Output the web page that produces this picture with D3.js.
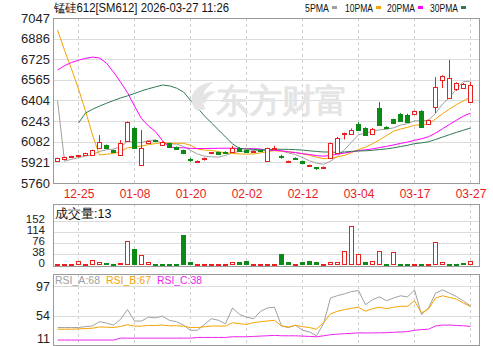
<!DOCTYPE html>
<html>
<head>
<meta charset="utf-8">
<script src="https://cdn.jsdelivr.net/npm/d3@7"></script>
<style>
  body { margin: 0; background: #fff; }
  text { font-family: "Liberation Sans", Arial, sans-serif; }
</style>
</head>
<body>
<script>
// ---- data ----
var dates = ["12-22","12-23","12-24","12-25","12-26","12-29","12-30","12-31","01-05","01-06",
  "01-07","01-08","01-09","01-12","01-13","01-14","01-15","01-16","01-19","01-20",
  "01-21","01-22","01-23","01-26","01-27","01-28","01-29","02-02","02-03","02-04",
  "02-05","02-06","02-09","02-10","02-11","02-12","02-13","02-24","02-25","02-26",
  "02-27","03-02","03-03","03-04","03-05","03-06","03-09","03-10","03-11","03-12",
  "03-13","03-17","03-18","03-19","03-20","03-23","03-24","03-25","03-26","03-27"];
var dateTicks = ["12-25","01-08","01-20","02-02","02-12","03-04","03-17","03-27"];

var openP = [5932,5950,5960,5965,5978,5978,6033,6056,6017,5978,
  6088,6189,5900,6072,6092,6056,6072,6041,6017,5945,
  5932,5955,5990,6002,6005,6002,6035,6017,6008,6015,
  5932,6030,5968,5930,5958,5932,5898,5882,5884,5955,
  5994,6148,6142,6220,6189,6142,6345,6200,6259,6298,
  6290,6298,6322,6220,6353,6563,6423,6493,6501,6392];
var closeP = [5955,5962,5968,5975,5992,6015,6080,6035,6002,6072,
  6236,6033,6033,6088,6085,6080,6041,6025,5994,5935,
  5934,5957,6000,5986,5998,6033,6012,6005,6012,6010,
  6033,6033,5960,5934,5952,5916,5902,5872,5888,6072,
  6111,6152,6173,6173,6134,6181,6212,6197,6228,6244,
  6236,6322,6197,6251,6509,6595,6580,6540,6532,6524];
var highP = [5958,5965,5972,5980,5996,6020,6134,6060,6020,6095,
  6240,6195,6173,6092,6098,6085,6075,6045,6020,5955,
  5936,5958,6002,6005,6008,6048,6040,6020,6015,6018,
  6035,6050,5980,5935,5960,5935,5903,5885,5890,6075,
  6120,6153,6185,6235,6195,6190,6392,6203,6262,6305,
  6300,6325,6328,6255,6587,6600,6719,6545,6540,6548];
var lowP = [5928,5946,5955,5960,5972,5975,6030,6030,5998,5975,
  6085,6028,5898,6068,6080,6050,6038,6020,5985,5925,
  5930,5935,5988,5983,5995,6000,6008,6000,6005,6005,
  5930,6028,5950,5918,5950,5912,5885,5862,5880,5950,
  5990,6100,6135,6168,6130,6138,6208,6195,6225,6240,
  6232,6295,6192,6215,6306,6501,6418,6478,6495,6388];

var ma5 = [6404,5930,5945,5958,5970,5982,6006,6019,6025,6041,
  6085,6076,6075,6092,6095,6064,6065,6064,6045,6015,
  5986,5969,5964,5962,5975,5995,6006,6007,6012,6014,
  6014,6019,6010,5994,5982,5959,5933,5915,5906,5930,
  5969,6019,6079,6136,6149,6163,6175,6179,6190,6212,
  6223,6245,6245,6250,6303,6375,6426,6495,6551,6554];
var ma10 = [6953,6797,6649,6493,6322,6134,5978,5985,5990,6006,
  6034,6041,6048,6059,6068,6075,6071,6070,6069,6055,
  6025,6017,6014,6004,5995,5990,5987,5985,5987,5995,
  6005,6012,6008,6003,5998,5987,5976,5962,5950,5956,
  5964,5976,5997,6021,6039,6066,6097,6130,6164,6181,
  6194,6211,6213,6221,6259,6300,6337,6371,6401,6429];
var ma20 = [6641,6675,6700,6718,6732,6742,6735,6695,6625,6548,
  6465,6360,6262,6205,6160,6090,6040,6035,6035,6030,
  6029,6029,6030,6031,6031,6032,6029,6027,6028,6025,
  6015,6015,6011,6003,5997,5989,5982,5974,5969,5976,
  5985,5994,6003,6012,6019,6026,6036,6046,6057,6069,
  6079,6093,6105,6121,6149,6183,6217,6250,6282,6305];
var ma30 = [null,null,null,6228,6306,6335,6360,6382,6403,6423,
  6440,6458,6478,6495,6510,6524,6518,6500,6470,6405,
  6345,6283,6228,6174,6119,6065,6030,6025,6022,6018,
  6021,6023,6023,6022,6020,6017,6011,6006,6002,6002,
  5998,6002,6007,6010,6011,6015,6021,6026,6034,6044,
  6054,6067,6073,6082,6099,6118,6137,6155,6172,6189];

var volume = [3,2,3,13,4,16,10,7,5,7,
  83,56,33,11,5,3,4,4,102,11,
  3,2,3,2,3,11,9,14,3,2,
  3,4,38,10,3,9,14,11,3,10,
  10,50,134,38,12,13,47,3,46,3,
  5,3,3,3,80,10,5,4,6,13];
var volUp = [1,1,1,1,1,1,1,0,0,1,
  1,0,1,1,0,0,0,0,0,0,
  1,1,1,1,1,1,0,0,1,1,
  1,1,0,0,1,0,0,0,1,1,
  1,1,1,1,0,1,1,0,1,0,
  0,1,0,1,1,1,0,0,0,1];

var rsiA = [36.4,36.4,36.4,36.5,37.8,38.7,45,43,40,48.3,
  62.6,45.9,45.9,51.6,50.6,53,46.9,45,40,32.5,
  32.5,41,49.3,47,42,65,55.5,51.6,49.3,60,
  65,66,38.7,36.4,40,32.5,30,24.4,42,79.4,
  83,85.5,88.9,90.3,69.8,77,81.2,75.5,79.4,82.7,
  81.2,91.3,55.5,65,86.5,91.3,86.5,81.7,75,68];
var rsiB = [34,34,34,34.5,35,35.5,37.3,37,36.5,38,
  40.5,38.5,38.5,39.5,39.5,40,39,39,38.5,36.4,
  36.4,37.5,38.7,38.7,38.5,43.5,42,41,43.5,45,
  46,47,38.7,37.3,39.6,37.8,36.4,34,43.5,56.4,
  60.2,62.6,64.5,66,60.2,64,66,64,66,67.4,
  67.4,75.5,57.8,63.5,79.4,82.7,80.3,77.9,72,67];
var rsiC = [18.2,18.2,18.2,18.2,18.2,18.2,18.2,18.2,18.2,21,
  21,21,21,21,21,21,21,21,21,21,
  22,22,22,22,22,23,23,23,23.5,24,
  24.5,25,24.5,24.4,24.4,24,23.5,23,24.4,26,
  26.8,27.5,28,28.7,28.5,28.7,28.7,29,29.5,30,
  30.5,32.5,33.5,34,38.7,40,40,39.5,39,38];

var priceTicks = [5760,5921,6082,6243,6404,6565,6725,6886,7047];
var volTicks = [0,38,76,114,152];
var rsiTicks = [11,54,97];

var maNames = ["5PMA","10PMA","20PMA","30PMA"];
var maColors = ["#a0a0a0","#f5a300","#f0f","#2f7a4f"];
var red = "#e8201e", green = "#0c8a16";

// ---- layout ----
var W = 493, H = 346;
var left = 53, right = 479;
var svg = d3.select("body").append("svg").attr("width", W).attr("height", H);

var x = d3.scalePoint().domain(dates).range([57.5, 470.5]);
var y = d3.scaleLinear().domain([5760, 7047]).range([183, 18]);
var yv = d3.scaleLinear().domain([0, 152]).range([265, 221]);
var yr = d3.scaleLinear().domain([11, 97]).range([345, 286]);
var fmt = d3.format("d");

function panel(top, bottom) {
  var g = svg.append("g");
  // vertical dashed grid at date ticks
  g.selectAll("line.v").data(dateTicks).enter().append("line")
    .attr("x1", function (d) { return x(d); }).attr("x2", function (d) { return x(d); })
    .attr("y1", top).attr("y2", bottom)
    .attr("stroke", "#cfcfcf").attr("stroke-dasharray", "3,3");
  return g;
}
function hgrid(g, scale, ticks, color) {
  g.selectAll("line.h").data(ticks).enter().append("line")
    .attr("x1", left).attr("x2", right)
    .attr("y1", function (d) { return Math.round(scale(d)) + 0.5; })
    .attr("y2", function (d) { return Math.round(scale(d)) + 0.5; })
    .attr("stroke", color);
}
function frame(top, bottom) {
  svg.append("rect").attr("x", left + 0.5).attr("y", top + 0.5)
    .attr("width", right - left).attr("height", bottom - top)
    .attr("fill", "none").attr("stroke", "#9a9a9a");
}
function styleTicks(sel, size) {
  sel.attr("font-size", size).attr("fill", "#222")
    .attr("font-family", "'Liberation Sans', Arial, sans-serif");
}

// title + legend
svg.append("text").attr("x", 54).attr("y", 12).attr("font-size", 12)
  .attr("font-family", "'Noto Sans CJK SC', sans-serif")
  .attr("textLength", 175).attr("lengthAdjust", "spacingAndGlyphs")
  .attr("fill", "#111").text("锰硅612[SM612] 2026-03-27 11:26");
var legX = [305, 345, 387, 430], legW = [24, 28, 28, 28];
maNames.forEach(function (n, i) {
  svg.append("text").attr("x", legX[i]).attr("y", 12).attr("font-size", 11)
    .attr("textLength", legW[i]).attr("lengthAdjust", "spacingAndGlyphs")
    .attr("fill", "#111").text(n);
  svg.append("rect").attr("x", legX[i] + legW[i] + 3).attr("y", 6)
    .attr("width", 5).attr("height", 3).attr("fill", maColors[i]);
});

// ---- price panel ----
var gp = panel(18, 183);
hgrid(gp, y, priceTicks, "#dcdcdc");

// watermark
var wm = svg.append("g").attr("fill", "#e4e4e4");
wm.append("path").attr("d", "M197,111 C186,100 192,84 214,82 C203,89 199,99 206,109 Z");
wm.append("path").attr("d", "M200,100 C204,92 210,90 216,92 C209,95 206,99 205,104 Z");
wm.append("text").attr("x", 216).attr("y", 112).attr("font-size", 33).attr("font-weight", "bold")
  .attr("font-family", "'Noto Sans CJK SC', sans-serif").text("东方财富");

gp.append("g").attr("transform", "translate(" + left + ",0)")
  .call(d3.axisLeft(y).tickValues(priceTicks).tickFormat(fmt).tickSize(0).tickPadding(3))
  .call(function (g) { g.select(".domain").remove(); })
  .selectAll("text").call(styleTicks, 13);

gp.append("g").attr("transform", "translate(0,183)")
  .call(d3.axisBottom(x).tickValues(dateTicks).tickSize(0).tickPadding(6))
  .call(function (g) { g.select(".domain").remove(); })
  .selectAll("text").call(styleTicks, 12).attr("fill", red);

// moving averages
var mas = [ma5, ma10, ma20, ma30];
mas.forEach(function (arr, k) {
  var line = d3.line()
    .defined(function (d) { return d != null; })
    .x(function (d, i) { return x(dates[i]); })
    .y(function (d) { return y(d); });
  gp.append("path").datum(arr).attr("d", line)
    .attr("fill", "none").attr("stroke", maColors[k]).attr("stroke-width", 1);
});

// candles
var candles = gp.selectAll("g.c").data(dates).enter().append("g");
candles.append("line")
  .attr("x1", function (d) { return x(d); }).attr("x2", function (d) { return x(d); })
  .attr("y1", function (d, i) { return y(highP[i]); })
  .attr("y2", function (d, i) { return y(lowP[i]); })
  .attr("stroke", function (d, i) { return closeP[i] >= openP[i] ? red : green; });
candles.append("rect")
  .attr("x", function (d) { return x(d) - 2; })
  .attr("y", function (d, i) { return Math.round(y(Math.max(openP[i], closeP[i]))) + 0.5; })
  .attr("width", 4)
  .attr("height", function (d, i) {
    return Math.max(1, Math.round(Math.abs(y(openP[i]) - y(closeP[i]))));
  })
  .attr("fill", function (d, i) { return closeP[i] >= openP[i] ? "#fff" : green; })
  .attr("stroke", function (d, i) { return closeP[i] >= openP[i] ? red : green; });

frame(18, 183);

// ---- volume panel ----
var gv = panel(204, 266);
hgrid(gv, yv, volTicks.slice(1), "#dcdcdc");
gv.append("g").attr("transform", "translate(" + left + ",-2)")
  .call(d3.axisLeft(yv).tickValues(volTicks).tickSize(0).tickPadding(8))
  .call(function (g) { g.select(".domain").remove(); })
  .selectAll("text").call(styleTicks, 11.5).attr("dy", "0.3em");
gv.selectAll("rect.vol").data(volume).enter().append("rect")
  .attr("x", function (d, i) { return x(dates[i]) - 2; })
  .attr("y", function (d) { return Math.round(yv(d)) + 0.5; })
  .attr("width", 4)
  .attr("height", function (d) { return Math.max(1, Math.round(yv(0) - yv(d)) - 1); })
  .attr("fill", function (d, i) { return volUp[i] ? "#fff" : green; })
  .attr("stroke", function (d, i) { return volUp[i] ? red : green; });
frame(204, 266);
svg.append("text").attr("x", 55).attr("y", 218).attr("font-size", 12.5)
  .attr("font-family", "'Noto Sans CJK SC', sans-serif").attr("fill", "#111")
  .text("成交量:" + volume[volume.length - 1]);

// ---- RSI panel ----
var gr = panel(274, 345);
hgrid(gr, yr, [54, 97], "#dcdcdc");
gr.append("g").attr("transform", "translate(" + left + ",0)")
  .call(d3.axisLeft(yr).tickValues(rsiTicks).tickSize(0).tickPadding(3))
  .call(function (g) { g.select(".domain").remove(); })
  .selectAll("text").call(styleTicks, 12.5)
  .attr("y", function (d) { return d === 11 ? -7 : 0; });
var rsiSets = [rsiA, rsiB, rsiC], rsiColors = ["#a0a0a0", "#f5a300", "#ee22ee"];
var rsiNames = ["RSI_A", "RSI_B", "RSI_C"], rsiX = [55, 106, 157];
rsiSets.forEach(function (arr, k) {
  var line = d3.line()
    .x(function (d, i) { return x(dates[i]); })
    .y(function (d) { return yr(d); });
  gr.append("path").datum(arr).attr("d", line)
    .attr("fill", "none").attr("stroke", rsiColors[k]).attr("stroke-width", 1);
  svg.append("text").attr("x", rsiX[k]).attr("y", 284).attr("font-size", 11)
    .attr("textLength", 45).attr("lengthAdjust", "spacingAndGlyphs")
    .attr("fill", rsiColors[k]).text(rsiNames[k] + ":" + Math.round(arr[arr.length - 1]));
});
frame(274, 345);
</script>
</body>
</html>
